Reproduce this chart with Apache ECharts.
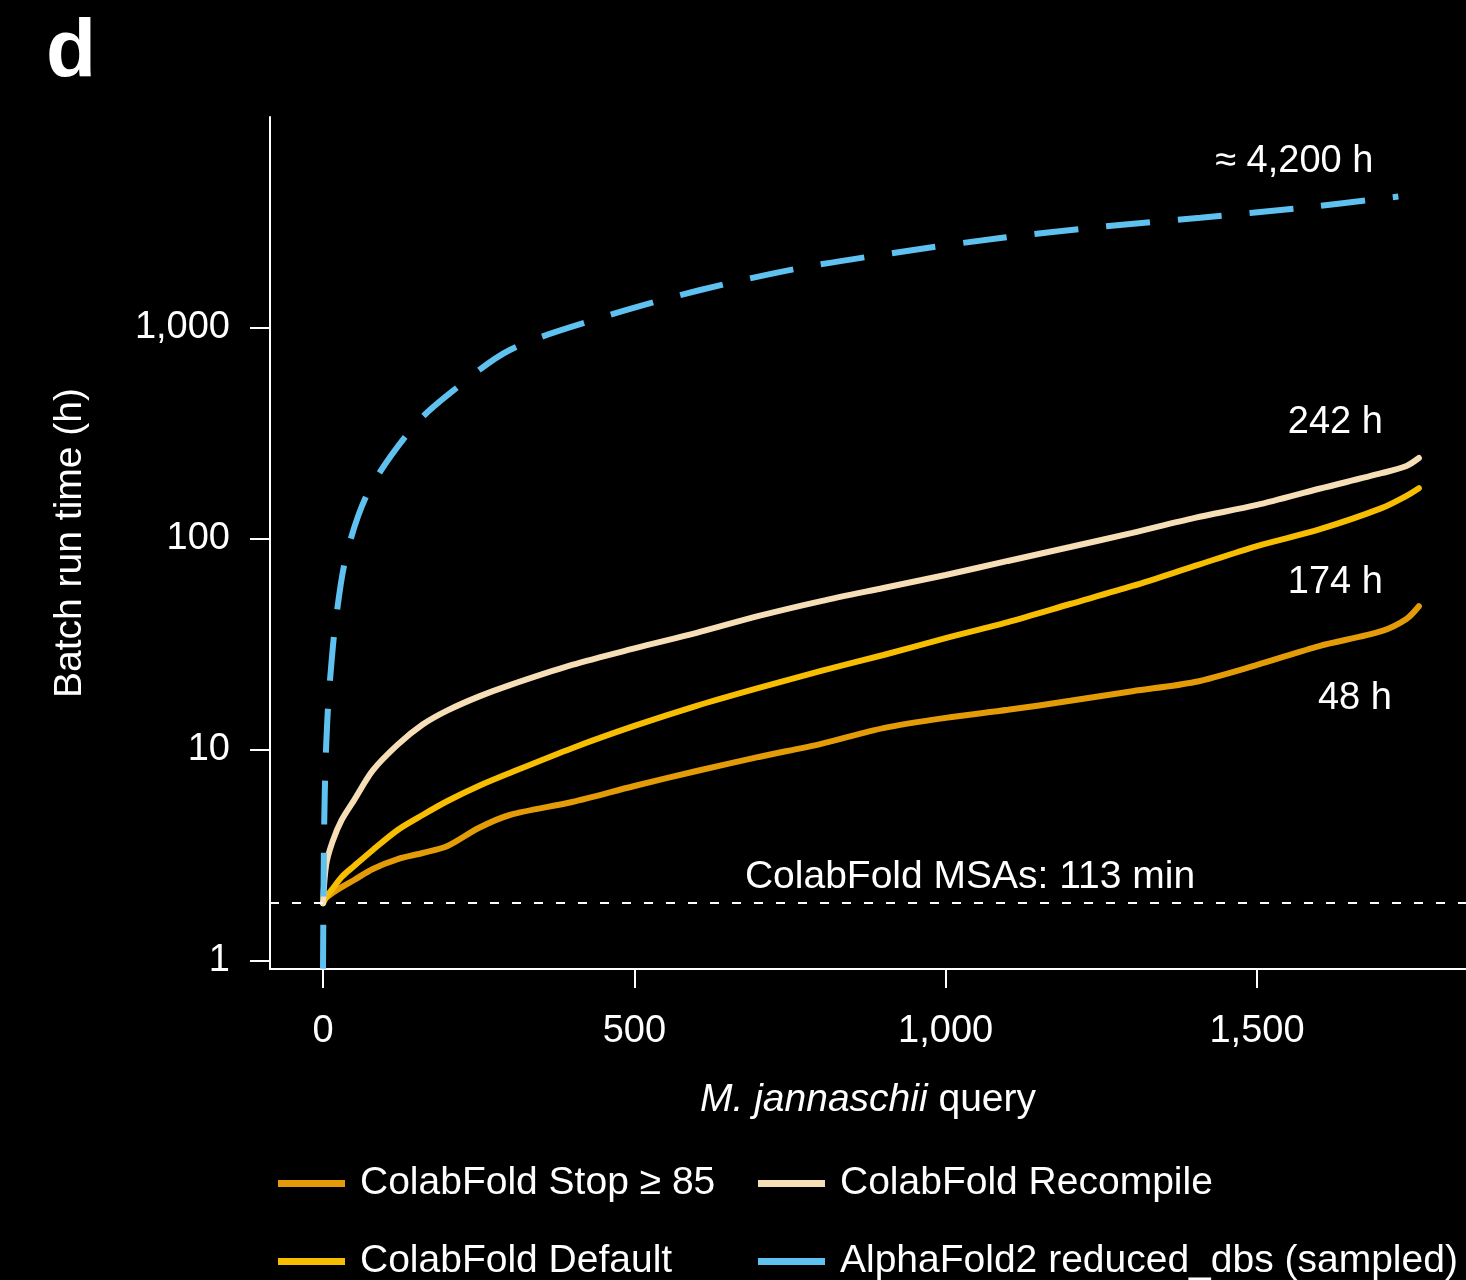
<!DOCTYPE html>
<html>
<head>
<meta charset="utf-8">
<title>Batch run time</title>
<script src="https://cdn.jsdelivr.net/npm/echarts@6/dist/echarts.min.js"></script>
<style>
  html, body { margin: 0; padding: 0; background: #000; }
  #chart { width: 1466px; height: 1280px; }
</style>
</head>
<body>
<div id="chart"></div>
<script>
// ---- data -------------------------------------------------------------
// Query index along M. jannaschii proteome, shared by the ColabFold runs
const colabQuery = [0, 5, 15, 30, 50, 80, 120, 160, 200, 250, 300, 400, 500, 600,
  700, 800, 900, 1000, 1100, 1200, 1300, 1400, 1500, 1600, 1700, 1740, 1760];
// Cumulative batch run time (hours)
const stopHours = [1.88, 1.99, 2.10, 2.24, 2.42, 2.73, 3.04, 3.25, 3.51, 4.27, 4.92,
  5.67, 6.75, 7.95, 9.27, 10.7, 12.7, 14.2, 15.5, 17.1, 19.0, 21.0, 25.3, 31.1, 36.6, 41.8, 48];
const defaultHours = [1.88, 2.01, 2.19, 2.50, 2.82, 3.36, 4.18, 4.92, 5.73, 6.75, 7.78,
  10.2, 13.0, 16.2, 19.7, 23.7, 28.2, 33.9, 40.4, 49.2, 59.9, 74.5, 92.6, 111, 140, 160, 174];
const recompileHours = [1.88, 2.85, 3.66, 4.66, 5.79, 8.0, 10.6, 13.2, 15.4, 17.9, 20.3,
  25.3, 30.3, 35.9, 43.2, 50.8, 58.6, 67.5, 78.7, 91.6, 107, 126, 145, 173, 205, 222, 242];
// AlphaFold2 (reduced_dbs) run time, sampled queries
const alphaQuery = [0, 1, 2, 4, 7, 11, 20, 38, 74, 146, 204, 300, 445, 606, 766, 927,
  1088, 1248, 1409, 1569, 1727];
const alphaHours = [0.92, 2.4, 4.6, 8.5, 14, 21, 40, 85, 170, 343, 491, 787, 1115, 1514,
  1924, 2293, 2672, 3013, 3330, 3700, 4200];
// ColabFold MSA generation time for the whole batch (minutes)
const msaMinutes = 113;

const seriesNames = ['ColabFold Stop \u2265 85', 'ColabFold Default', 'ColabFold Recompile',
  'AlphaFold2 reduced_dbs (sampled)'];
const xTickValues = [0, 500, 1000, 1500];
const yTickValues = [1, 10, 100, 1000];

// ---- layout -----------------------------------------------------------
const FONT = '"Liberation Sans", Arial, Helvetica, sans-serif';
const FRAME = { left: 270, top: 117, right: 1466, bottom: 969 };
const X_FIRST_TICK = 323, X_LAST_TICK = 1257;   // columns of query 0 and 1,500
const Y_FIRST_TICK = 961, Y_LAST_TICK = 328;    // rows of 1 h and 1,000 h

const qFirst = xTickValues[0], qLast = xTickValues[xTickValues.length - 1];
const pxPerQuery = (X_LAST_TICK - X_FIRST_TICK) / (qLast - qFirst);
const xMin = qFirst + (FRAME.left - X_FIRST_TICK) / pxPerQuery;
const xMax = qFirst + (FRAME.right - X_FIRST_TICK) / pxPerQuery;
const decFirst = Math.log10(yTickValues[0]), decLast = Math.log10(yTickValues[yTickValues.length - 1]);
const pxPerDecade = (Y_FIRST_TICK - Y_LAST_TICK) / (decLast - decFirst);
const yMin = Math.pow(10, decFirst - (FRAME.bottom - Y_FIRST_TICK) / pxPerDecade);
const yMax = Math.pow(10, decFirst + (Y_FIRST_TICK - FRAME.top) / pxPerDecade);

const WHITE = '#ffffff';
const colors = ['#E39B08', '#F7BD00', '#F6DEB6', '#5EC1F0'];
const fmt = v => Number(v).toLocaleString('en-US');

const zip = (xs, ys) => xs.map((x, i) => [x, ys[i]]);

// end-of-line annotations: prefix and offset of the label's right/middle point
const endNotes = [
  { prefix: '', pos: [-27, 92] },
  { prefix: '', pos: [-36, 94] },
  { prefix: '', pos: [-36, -35] },
  { prefix: '\u2248 ', pos: [-25, -35] }
];

function lineSeries(idx, qs, hs, dashed) {
  const last = qs.length - 1;
  return {
    name: seriesNames[idx],
    type: 'line',
    xAxisIndex: 0,
    yAxisIndex: 0,
    data: zip(qs, hs),
    showSymbol: false,
    smooth: 0.3,
    color: colors[idx],
    lineStyle: {
      color: colors[idx],
      width: 6,
      type: dashed ? [44, 28] : 'solid',
      cap: dashed ? 'butt' : 'round'
    },
    emphasis: { disabled: true },
    z: 2 + idx,
    markPoint: {
      silent: true,
      symbol: 'circle',
      symbolSize: 0,
      itemStyle: { color: 'transparent' },
      data: [{ coord: [qs[last], hs[last]], value: hs[last] }],
      label: {
        show: true,
        position: endNotes[idx].pos,
        align: 'right',
        verticalAlign: 'middle',
        color: WHITE,
        fontFamily: FONT,
        fontSize: 38,
        formatter: p => endNotes[idx].prefix + fmt(p.value) + ' h'
      }
    }
  };
}

const series = [
  lineSeries(0, colabQuery, stopHours, false),
  lineSeries(1, colabQuery, defaultHours, false),
  lineSeries(2, colabQuery, recompileHours, false),
  lineSeries(3, alphaQuery, alphaHours, true)
];

// dotted reference line for the MSA stage
series[0].markLine = {
  silent: true,
  symbol: ['none', 'none'],
  data: [{ yAxis: msaMinutes / 60 }],
  lineStyle: { color: WHITE, width: 2, type: [9, 13] },
  label: {
    show: true,
    position: 'insideMiddleTop',
    distance: 6,
    padding: [0, 0, 0, 204],
    color: WHITE,
    fontFamily: FONT,
    fontSize: 39,
    lineHeight: 39,
    formatter: 'ColabFold MSAs: ' + msaMinutes + ' min'
  }
};

const tickLabelStyle = { color: WHITE, fontFamily: FONT, fontSize: 38 };

// legend: two columns by two rows, one legend block per entry
const legendCols = [278, 758];
const legendRows = [1164, 1242];
const legendSlots = [[0, 0], [0, 1], [1, 0], [1, 1]];   // [column, row] for each series
const legends = seriesNames.map((name, i) => ({
  left: legendCols[legendSlots[i][0]],
  top: legendRows[legendSlots[i][1]],
  data: [name],
  orient: 'horizontal',
  padding: 0,
  itemWidth: 67,
  itemHeight: 7,
  icon: 'rect',
  selectedMode: false,
  itemStyle: { borderWidth: 0 },
  textStyle: { color: WHITE, fontFamily: FONT, fontSize: 39, lineHeight: 39, padding: [0, 0, 0, 10] }
}));

const option = {
  backgroundColor: '#000000',
  animation: false,
  graphic: [{
    type: 'text',
    left: 46,
    top: 12,
    style: { text: 'd', fill: WHITE, font: 'bold 82px ' + FONT }
  }],
  grid: [
    { left: FRAME.left, top: FRAME.top, width: FRAME.right - FRAME.left, height: FRAME.bottom - FRAME.top,
      outerBoundsMode: 'none' },
    { left: X_FIRST_TICK, top: Y_LAST_TICK, width: X_LAST_TICK - X_FIRST_TICK, height: Y_FIRST_TICK - Y_LAST_TICK,
      outerBoundsMode: 'none' }
  ],
  xAxis: [
    {
      gridIndex: 0, type: 'value', min: xMin, max: xMax,
      axisLine: { show: true, onZero: false, lineStyle: { color: WHITE, width: 2 } },
      axisTick: { show: false }, axisLabel: { show: false }, splitLine: { show: false },
      name: '{i|M. jannaschii} query',
      nameLocation: 'middle',
      nameGap: 112,
      nameMoveOverlap: false,
      nameTextStyle: {
        color: WHITE, fontFamily: FONT, fontSize: 39,
        rich: { i: { color: WHITE, fontFamily: FONT, fontSize: 39, fontStyle: 'italic' } }
      }
    },
    {
      gridIndex: 1, type: 'value', min: qFirst, max: qLast, interval: 500, offset: FRAME.bottom - Y_FIRST_TICK,
      axisLine: { show: false, onZero: false },
      axisTick: { show: true, length: 19, lineStyle: { color: WHITE, width: 2 } },
      axisLabel: Object.assign({ margin: 44, formatter: fmt }, tickLabelStyle),
      splitLine: { show: false }
    }
  ],
  yAxis: [
    {
      gridIndex: 0, type: 'log', logBase: 10, min: yMin, max: yMax,
      axisLine: { show: true, onZero: false, lineStyle: { color: WHITE, width: 2 } },
      axisTick: { show: false }, axisLabel: { show: false }, splitLine: { show: false },
      minorTick: { show: false }, minorSplitLine: { show: false },
      name: 'Batch run time (h)',
      nameLocation: 'middle',
      nameGap: 180,
      nameMoveOverlap: false,
      nameTextStyle: { color: WHITE, fontFamily: FONT, fontSize: 39 }
    },
    {
      gridIndex: 1, type: 'log', logBase: 10, min: yTickValues[0], max: yTickValues[yTickValues.length - 1],
      offset: X_FIRST_TICK - FRAME.left,
      axisLine: { show: false, onZero: false },
      axisTick: { show: true, length: 20, lineStyle: { color: WHITE, width: 2 } },
      axisLabel: Object.assign({ margin: 40, formatter: fmt }, tickLabelStyle),
      splitLine: { show: false }
    }
  ],
  legend: legends,
  series: series
};

const chart = echarts.init(document.getElementById('chart'), null, { renderer: 'canvas' });
chart.setOption(option);
</script>
</body>
</html>
